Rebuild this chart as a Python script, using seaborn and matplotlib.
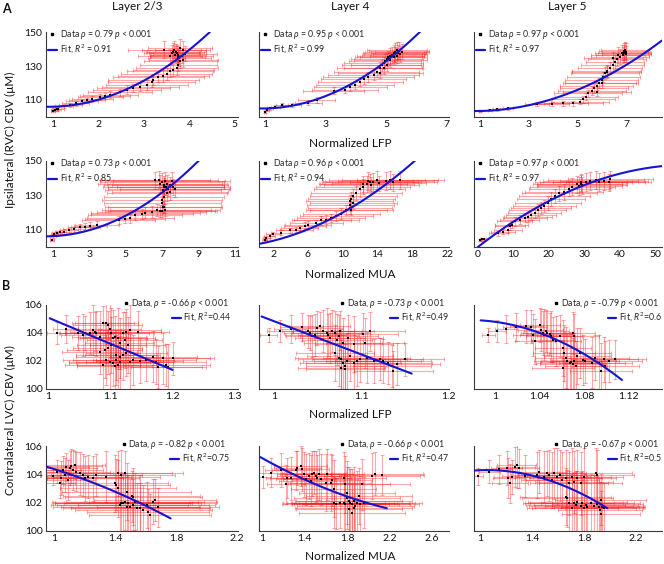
import numpy as np
import matplotlib
matplotlib.use("Agg")
import matplotlib.pyplot as plt
import seaborn as sns
from matplotlib.lines import Line2D

# ---------------- data: (x, y, xerr, yerr) per point ----------------
# Row A1: Ipsilateral CBV vs normalized LFP
a1_pts = [(1.00,103.7,0.05,0.6),(1.04,104.2,0.08,0.8),(1.08,104.6,0.10,0.8),(1.12,104.9,0.12,1.0),
          (1.25,106.2,0.20,1.2),(1.38,107.3,0.25,1.2),(1.50,108.0,0.30,1.5),(1.64,109.2,0.35,1.5),
          (1.75,109.8,0.40,1.5),(1.86,110.6,0.45,1.8),(2.04,111.8,0.50,1.8),(2.15,112.4,0.55,2.0),
          (2.26,113.1,0.60,2.0),(2.48,114.5,0.70,2.0),(2.62,116.1,0.75,2.5),(2.77,117.0,0.80,2.5),
          (2.92,117.6,0.85,2.5),(3.06,119.0,0.90,3.0),(3.17,120.4,0.95,3.0),(3.21,122.0,1.00,3.0),
          (3.32,123.5,1.00,3.0),(3.43,124.3,1.00,3.5),(3.50,125.5,1.00,3.5),(3.57,126.9,0.95,3.5),
          (3.65,127.8,0.90,3.5),(3.72,128.8,0.90,4.0),(3.76,130.8,0.85,4.0),(3.80,132.7,0.80,4.0),
          (3.87,133.7,0.75,4.0),(3.83,136.1,0.70,4.5),(3.78,134.7,0.70,4.5),(3.76,136.7,0.60,5.0),
          (3.72,137.6,0.60,5.0),(3.71,138.0,0.65,5.0),(3.66,139.6,0.70,5.0),(3.61,137.6,0.60,5.0),
          (3.57,135.7,0.70,4.5),(3.85,139.6,0.60,5.0),(3.79,140.6,0.70,5.0),(3.45,139.6,0.80,5.0),
          (3.68,136.5,0.55,5.0),(3.90,137.2,0.70,4.5),(3.74,135.5,0.60,4.5),(3.64,138.5,0.60,5.0)]
a2_pts = [(1.00,103.1,0.03,0.6),(1.06,104.1,0.06,0.8),(1.17,105.1,0.10,0.8),(1.33,106.1,0.15,1.0),
          (1.55,107.1,0.20,1.0),(1.88,107.1,0.30,1.2),(2.43,108.4,0.45,1.5),(2.70,110.0,0.60,1.5),
          (3.26,115.5,1.00,2.0),(3.64,115.9,1.10,2.0),(3.81,117.5,1.20,2.0),(3.97,118.8,1.30,2.5),
          (4.14,120.8,1.40,2.5),(4.25,122.2,1.40,2.5),(4.41,123.7,1.50,3.0),(4.58,124.7,1.50,3.0),
          (4.69,126.7,1.40,3.0),(4.78,128.6,1.40,3.5),(4.85,130.6,1.30,3.5),(4.91,131.6,1.30,3.5),
          (4.96,132.9,1.20,4.0),(5.02,133.9,1.20,4.0),(5.07,135.1,1.10,4.0),(5.13,135.9,1.10,4.5),
          (5.19,136.5,1.00,4.5),(5.24,137.5,1.00,5.0),(5.30,138.4,1.00,5.0),(5.35,139.4,1.00,5.0),
          (5.40,137.8,0.90,4.5),(5.46,137.1,0.90,4.5),(5.52,138.4,0.90,4.5),(5.13,133.5,1.20,4.0),
          (5.02,130.6,1.20,3.5),(4.91,128.6,1.30,3.5),(5.24,135.1,1.10,4.0),(4.80,125.7,1.40,3.0),
          (5.28,136.8,1.00,4.5),(5.35,136.0,0.90,4.5),(5.42,139.0,1.00,5.0)]
a3_pts = [(1.00,103.5,0.05,0.5),(1.41,104.1,0.10,0.6),(1.68,104.5,0.15,0.8),(2.16,105.1,0.20,0.8),
          (3.33,107.6,0.50,1.2),(3.95,107.6,0.70,1.2),(4.42,108.0,1.00,1.5),(4.84,108.0,1.20,1.5),
          (5.11,109.0,1.20,1.5),(5.25,110.4,1.30,2.0),(5.36,112.0,1.30,2.0),(5.45,113.9,1.40,2.0),
          (5.59,115.5,1.40,2.5),(5.68,116.9,1.40,2.5),(5.79,118.2,1.50,2.5),(5.90,120.2,1.50,3.0),
          (6.00,121.8,1.50,3.0),(6.07,123.7,1.50,3.0),(6.14,125.7,1.40,3.5),(6.20,127.3,1.40,3.5),
          (6.34,128.6,1.30,3.5),(6.45,130.6,1.30,4.0),(6.55,132.5,1.20,4.0),(6.64,133.9,1.20,4.0),
          (6.75,135.5,1.20,4.5),(6.86,136.5,1.10,4.5),(6.93,137.5,1.10,5.0),(7.00,138.4,1.00,5.0),
          (6.96,139.4,1.00,5.0),(6.82,137.8,1.10,4.5),(6.68,136.5,1.10,4.5),(6.48,134.5,1.20,4.0),
          (6.20,126.7,1.40,3.5),(6.00,120.2,1.50,3.0),(5.79,114.9,1.40,2.5),(6.90,138.8,1.00,5.0),
          (7.02,137.0,1.00,4.5)]
# Row A2: Ipsilateral CBV vs normalized MUA
a4_pts = [(0.95,104.2,0.10,0.6),(1.00,106.2,0.15,0.8),(1.07,107.5,0.20,1.0),(1.22,108.1,0.25,1.0),
          (1.40,108.7,0.30,1.2),(1.58,109.0,0.40,1.5),(1.86,109.6,0.50,1.5),(2.13,110.4,0.60,1.5),
          (2.50,111.5,0.70,2.0),(2.77,111.9,0.80,2.0),(3.05,112.3,0.90,2.0),(3.40,112.9,1.20,2.0),
          (4.60,115.8,2.00,2.5),(4.96,116.2,2.20,2.5),(5.24,116.7,2.40,2.5),(5.50,118.7,2.60,3.0),
          (5.90,119.2,2.80,3.0),(6.06,120.0,3.00,3.0),(6.42,120.6,3.00,3.5),(6.70,121.5,3.00,3.5),
          (6.88,121.2,3.00,3.5),(7.00,121.2,3.00,3.5),(7.06,123.5,3.20,3.5),(7.00,125.4,3.20,4.0),
          (6.97,127.3,3.30,4.0),(7.10,129.2,3.30,4.0),(7.25,131.2,3.30,4.5),(7.43,132.1,3.20,4.5),
          (7.34,134.0,3.30,4.5),(7.07,135.0,3.30,5.0),(6.88,136.9,3.40,5.0),(6.97,137.9,3.40,5.0),
          (7.15,138.5,3.30,5.0),(7.25,136.9,3.30,5.0),(7.43,136.0,3.20,4.5),(7.60,135.0,3.10,4.5),
          (7.70,133.5,3.00,4.5),(7.52,138.5,3.20,5.0),(6.60,138.8,3.00,5.0),(6.84,139.2,3.20,5.0),
          (7.10,136.0,3.30,5.0),(7.20,134.6,3.20,4.5),(7.03,133.0,3.20,4.5),(7.12,123.5,3.10,3.5),
          (7.15,121.5,3.00,3.5)]
a5_pts = [(1.04,104.1,0.3,0.6),(1.23,105.1,0.4,0.8),(1.62,106.5,0.6,1.0),(2.00,107.5,0.8,1.0),
          (2.96,108.4,1.2,1.2),(3.92,109.6,1.6,1.5),(4.68,110.0,1.9,1.5),(5.07,111.0,2.1,1.5),
          (5.64,112.4,2.4,2.0),(6.02,112.9,2.6,2.0),(6.98,113.9,3.0,2.0),(7.56,115.5,3.4,2.5),
          (8.13,115.9,3.7,2.5),(8.70,116.9,3.9,2.5),(9.28,118.2,4.2,3.0),(9.85,119.4,4.4,3.0),
          (10.43,121.4,4.6,3.0),(10.81,122.7,4.8,3.5),(10.89,124.7,5.0,3.5),(10.81,126.7,5.0,3.5),
          (11.00,128.0,5.0,4.0),(11.20,129.6,5.0,4.0),(11.58,131.6,5.2,4.0),(11.96,133.5,5.2,4.5),
          (12.34,135.1,5.4,4.5),(12.73,136.5,5.4,4.5),(13.10,137.5,5.5,5.0),(13.50,137.8,5.5,5.0),
          (13.90,139.0,5.5,5.0),(12.34,136.5,5.0,4.5),(12.90,138.4,5.2,5.0),(15.00,138.4,5.5,5.0),
          (15.40,139.0,5.5,5.0),(15.80,137.5,5.0,5.0),(16.60,139.0,5.0,5.0),(11.00,121.4,4.8,3.0),
          (11.20,125.7,5.0,3.5),(13.30,136.2,5.4,4.5),(14.20,137.0,5.4,4.5)]
a6_pts = [(0.65,104.1,0.3,0.6),(1.10,104.5,0.5,0.8),(1.60,104.7,0.8,0.8),(5.80,108.0,2.8,1.5),
          (7.20,109.0,3.4,1.5),(8.50,110.0,4.0,2.0),(9.00,112.0,4.3,2.0),(9.50,113.0,4.6,2.0),
          (10.40,115.0,5.0,2.5),(11.80,115.9,5.6,2.5),(13.20,116.9,6.2,2.5),(14.10,117.5,6.8,3.0),
          (15.00,118.8,7.2,3.0),(16.00,119.8,7.6,3.0),(16.90,121.4,8.0,3.5),(17.80,122.7,8.4,3.5),
          (18.80,124.1,8.8,3.5),(19.80,125.7,9.2,4.0),(20.70,128.0,9.6,4.0),(21.70,129.6,10.0,4.0),
          (23.00,131.2,10.5,4.5),(24.40,132.0,11.0,4.5),(25.80,133.9,11.5,4.5),(26.70,135.1,12.0,5.0),
          (28.10,136.5,12.5,5.0),(29.00,137.5,13.0,5.0),(29.50,135.9,12.5,5.0),(30.50,137.8,13.0,5.0),
          (31.80,138.4,13.5,5.0),(33.30,139.0,13.5,5.0),(34.20,137.8,13.0,5.0),(35.60,138.4,12.5,5.0),
          (37.00,137.5,12.0,5.0),(37.40,139.4,12.0,5.0),(28.60,135.5,12.0,5.0),(29.20,136.8,12.5,5.0)]
# Row B1: Contralateral CBV vs normalized LFP
b1_pts = [(1.014,103.98,0.015,0.8),(1.029,104.26,0.020,1.0),(1.048,103.98,0.030,1.2),(1.056,103.86,0.035,1.5),
          (1.059,103.98,0.040,1.2),(1.067,104.02,0.040,1.5),(1.072,104.20,0.045,1.8),(1.075,104.10,0.040,1.4),
          (1.078,103.98,0.050,1.6),(1.083,103.74,0.045,1.8),(1.088,104.70,0.050,1.2),(1.094,104.70,0.050,1.5),
          (1.096,104.60,0.055,1.0),(1.099,104.26,0.050,2.0),(1.102,103.98,0.060,1.8),(1.104,103.62,0.055,2.0),
          (1.107,103.74,0.050,1.5),(1.112,103.62,0.060,2.2),(1.115,103.26,0.055,1.8),(1.120,103.98,0.050,1.5),
          (1.123,103.50,0.060,2.0),(1.126,104.10,0.055,1.6),(1.128,103.14,0.060,2.0),(1.131,104.20,0.050,1.8),
          (1.094,102.07,0.070,1.8),(1.099,101.95,0.065,2.0),(1.104,101.83,0.070,1.6),(1.107,101.64,0.060,2.2),
          (1.110,102.07,0.070,1.8),(1.112,101.71,0.065,2.0),(1.115,102.31,0.070,1.5),(1.120,102.43,0.060,1.8),
          (1.126,102.55,0.065,1.6),(1.131,101.95,0.070,2.0),(1.137,102.07,0.065,1.8),(1.147,102.02,0.070,1.6),
          (1.158,102.07,0.080,1.5),(1.169,102.31,0.070,1.8),(1.174,101.95,0.080,1.6),(1.177,101.60,0.070,1.5),
          (1.185,102.19,0.075,1.8),(1.190,101.71,0.070,1.5),(1.193,101.60,0.060,1.6),(1.201,102.19,0.065,1.2),
          (1.088,101.71,0.060,1.8),(1.091,102.79,0.060,2.0),(1.096,102.90,0.055,1.8),(1.083,102.67,0.060,1.6),
          (1.102,103.14,0.055,2.0),(1.145,104.10,0.050,1.5),(1.110,102.43,0.065,1.8),(1.115,101.95,0.070,2.0)]
b2_pts = [(0.993,103.88,0.010,0.5),(1.006,104.16,0.015,0.8),(1.019,104.31,0.020,1.0),(1.031,104.40,0.025,1.0),
          (1.039,104.12,0.030,1.2),(1.043,103.76,0.030,1.5),(1.041,104.00,0.030,1.2),(1.047,103.88,0.035,1.5),
          (1.049,104.35,0.030,1.2),(1.052,104.47,0.035,1.0),(1.056,104.16,0.035,1.5),(1.060,104.00,0.040,1.8),
          (1.062,103.88,0.035,1.5),(1.064,103.65,0.040,1.8),(1.066,104.12,0.035,1.5),(1.070,104.00,0.040,1.6),
          (1.072,103.53,0.040,1.8),(1.074,103.76,0.045,1.5),(1.075,104.16,0.040,1.4),(1.079,103.29,0.045,1.8),
          (1.085,103.65,0.040,1.6),(1.091,103.18,0.045,2.0),(1.102,103.93,0.040,1.5),(1.110,104.12,0.040,1.4),
          (1.104,103.29,0.045,1.8),(1.070,102.59,0.045,2.0),(1.074,102.24,0.050,2.0),(1.077,102.12,0.050,2.2),
          (1.079,101.88,0.050,2.0),(1.081,101.65,0.045,1.8),(1.083,102.00,0.050,2.0),(1.087,102.35,0.050,1.8),
          (1.091,101.88,0.055,2.0),(1.095,102.00,0.050,1.8),(1.098,102.12,0.055,1.6),(1.106,102.24,0.050,1.8),
          (1.114,102.00,0.055,1.6),(1.121,102.12,0.050,1.5),(1.125,102.00,0.055,1.6),(1.131,101.88,0.050,1.5),
          (1.135,101.65,0.045,1.5),(1.137,101.29,0.045,1.4),(1.141,101.76,0.050,1.5),(1.150,102.12,0.045,1.2),
          (1.081,101.41,0.045,1.8),(1.077,101.53,0.050,2.0)]
b3_pts = [(0.994,103.88,0.006,0.5),(1.002,104.16,0.008,0.8),(1.010,104.31,0.010,1.0),(1.019,104.40,0.012,1.0),
          (1.028,104.47,0.015,1.2),(1.032,104.45,0.015,1.2),(1.034,103.88,0.018,1.5),(1.036,103.41,0.018,1.6),
          (1.040,104.59,0.018,1.2),(1.041,104.24,0.020,1.5),(1.043,104.00,0.020,1.6),(1.044,103.88,0.022,1.8),
          (1.046,104.12,0.020,1.5),(1.047,104.00,0.022,1.6),(1.049,103.93,0.020,1.5),(1.050,103.76,0.022,1.8),
          (1.052,103.53,0.020,1.6),(1.055,103.41,0.022,1.8),(1.058,103.76,0.020,1.5),(1.061,102.94,0.025,2.0),
          (1.062,102.59,0.028,2.0),(1.064,102.24,0.028,2.2),(1.065,102.00,0.030,2.0),(1.067,101.88,0.030,2.2),
          (1.068,101.95,0.028,2.0),(1.070,101.81,0.030,1.8),(1.071,102.00,0.030,2.0),(1.073,101.65,0.028,1.8),
          (1.074,102.35,0.030,2.0),(1.076,102.59,0.028,1.8),(1.079,102.05,0.030,1.8),(1.081,102.00,0.030,1.6),
          (1.070,104.00,0.020,1.5),(1.071,103.76,0.022,1.6),(1.061,101.53,0.028,2.0),(1.087,101.88,0.030,1.8),
          (1.090,102.24,0.030,1.6),(1.093,101.88,0.030,2.0),(1.095,101.29,0.028,2.0),(1.098,102.12,0.030,1.6),
          (1.102,102.00,0.030,1.5),(1.108,102.12,0.028,1.4),(1.099,101.65,0.030,1.8)]
# Row B2: Contralateral CBV vs normalized MUA
b4_pts = [(0.993,103.88,0.05,0.6),(1.020,104.19,0.08,0.8),(1.037,103.36,0.10,1.0),(1.048,103.72,0.12,1.2),
          (1.059,104.31,0.12,1.0),(1.070,103.95,0.15,1.2),(1.081,104.54,0.15,1.0),(1.092,103.60,0.18,1.4),
          (1.103,104.42,0.18,1.2),(1.114,104.59,0.20,1.2),(1.125,104.31,0.20,1.4),(1.136,104.66,0.20,1.0),
          (1.147,104.19,0.22,1.4),(1.169,104.07,0.22,1.5),(1.191,103.95,0.25,1.5),(1.202,103.72,0.25,1.6),
          (1.224,103.84,0.28,1.5),(1.257,103.72,0.30,1.6),(1.279,103.95,0.30,1.5),(1.344,103.84,0.35,1.8),
          (1.399,103.36,0.35,2.0),(1.421,104.07,0.35,1.6),(1.443,103.95,0.35,1.8),(1.465,104.07,0.38,1.6),
          (1.421,103.01,0.38,2.0),(1.410,103.25,0.35,1.8),(1.432,101.84,0.45,2.0),(1.443,101.95,0.45,2.2),
          (1.454,102.00,0.45,2.0),(1.465,102.07,0.48,2.0),(1.476,101.72,0.48,2.2),(1.487,101.95,0.48,2.0),
          (1.498,101.67,0.45,2.0),(1.520,101.84,0.50,1.8),(1.531,102.07,0.45,2.0),(1.542,101.60,0.48,1.8),
          (1.564,101.95,0.50,2.0),(1.586,101.48,0.45,1.8),(1.608,101.84,0.45,1.6),(1.618,101.36,0.40,1.6),
          (1.629,101.13,0.40,1.5),(1.651,102.07,0.42,1.6),(1.662,102.19,0.40,1.5),(1.684,101.67,0.40,1.4),
          (1.564,101.60,0.45,1.8),(1.520,102.42,0.45,2.0),(1.509,102.47,0.45,1.8),(1.476,102.78,0.42,2.0)]
b5_pts = [(1.006,103.81,0.08,0.8),(1.084,104.12,0.12,1.0),(1.178,104.28,0.15,1.2),(1.224,103.29,0.18,1.4),
          (1.240,103.76,0.20,1.4),(1.271,103.72,0.20,1.5),(1.318,104.28,0.22,1.4),(1.333,104.47,0.22,1.2),
          (1.364,104.59,0.25,1.4),(1.380,104.35,0.25,1.5),(1.396,104.00,0.25,1.6),(1.411,103.65,0.28,1.8),
          (1.442,103.88,0.30,1.6),(1.458,103.53,0.30,1.8),(1.474,104.05,0.30,1.6),(1.490,104.12,0.30,1.5),
          (1.505,103.88,0.32,1.8),(1.520,103.76,0.32,1.6),(1.536,104.00,0.32,1.8),(1.551,103.65,0.35,1.8),
          (1.598,103.41,0.35,2.0),(1.614,104.00,0.35,1.8),(1.645,103.41,0.38,2.0),(1.660,103.58,0.38,1.8),
          (1.676,103.00,0.40,2.0),(1.769,103.76,0.40,1.8),(1.785,103.29,0.42,2.0),(1.800,102.71,0.45,2.2),
          (1.816,102.12,0.50,2.4),(1.832,102.00,0.55,2.4),(1.847,101.88,0.55,2.5),(1.863,102.12,0.55,2.4),
          (1.879,101.76,0.55,2.2),(1.894,102.00,0.55,2.2),(1.816,101.53,0.50,2.2),(1.847,101.29,0.50,2.0),
          (1.863,101.60,0.55,2.2),(1.785,101.88,0.50,2.0),(1.769,102.00,0.50,2.0),(1.738,102.00,0.50,1.8),
          (1.692,101.93,0.50,1.8),(1.676,102.00,0.48,1.8),(1.925,101.88,0.55,2.0),(1.956,102.00,0.55,1.8),
          (1.941,103.29,0.45,1.8),(2.034,103.88,0.45,1.6),(2.065,104.05,0.45,1.5),(2.128,103.95,0.40,1.4),
          (1.910,102.47,0.50,2.0),(1.800,102.35,0.50,2.2)]
b6_pts = [(0.987,103.88,0.04,0.6),(1.072,104.19,0.08,0.8),(1.150,104.35,0.10,1.0),(1.206,104.42,0.12,1.2),
          (1.219,103.72,0.12,1.4),(1.232,103.36,0.14,1.4),(1.245,103.79,0.14,1.2),(1.271,104.54,0.15,1.4),
          (1.284,104.66,0.15,1.6),(1.297,104.42,0.16,1.4),(1.348,103.88,0.18,1.5),(1.439,103.95,0.20,1.6),
          (1.452,104.19,0.20,1.5),(1.490,103.84,0.22,1.8),(1.516,104.07,0.22,1.6),(1.529,103.95,0.24,1.8),
          (1.555,103.60,0.24,2.0),(1.568,104.07,0.25,1.8),(1.594,103.84,0.25,2.0),(1.619,103.95,0.26,1.8),
          (1.632,103.60,0.28,2.0),(1.658,103.72,0.28,2.0),(1.684,103.36,0.30,2.2),(1.710,103.84,0.30,2.0),
          (1.723,103.48,0.30,2.2),(1.748,103.72,0.30,2.0),(1.774,103.36,0.32,2.2),(1.800,103.84,0.30,2.0),
          (1.890,104.07,0.28,1.8),(1.903,103.95,0.28,1.8),(1.684,102.00,0.35,2.2),(1.710,101.60,0.35,2.4),
          (1.723,101.95,0.38,2.2),(1.735,101.84,0.38,2.4),(1.748,102.07,0.38,2.2),(1.774,101.76,0.40,2.4),
          (1.787,102.00,0.40,2.2),(1.800,101.60,0.40,2.4),(1.813,101.84,0.40,2.2),(1.826,101.67,0.40,2.2),
          (1.852,102.00,0.38,2.0),(1.877,101.76,0.38,2.2),(1.903,101.91,0.35,2.0),(1.916,101.72,0.35,2.0),
          (1.929,102.19,0.35,1.8),(1.923,101.48,0.32,2.0),(1.942,101.67,0.32,1.8),(1.955,101.60,0.30,1.8),
          (1.929,101.20,0.30,1.6),(1.658,102.42,0.35,2.0),(1.671,102.31,0.35,2.0)]

# quadratic fits: y = c + b*(x-x0) + k*(x-x0)^2 over [x_start, x_end]
a1_fit = (0.90, 106.0, 0.0, 3.49, 0.846, 4.45)
a2_fit = (0.90, 105.0, 0.0, 1.66, 0.80, 6.12)
a3_fit = (0.80, 103.5, 0.0, 0.704, 0.75, 8.47)
a4_fit = (0.60, 106.2, 0.0, 0.623, 0.615, 9.02)
a5_fit = (0.40, 101.8, 0.961, 0.0974, 0.39, 18.3)
a6_fit = (0.0, 100.0, 1.60, -0.01338, 0.0, 52.0)
b1_fit = (1.003, 105.05, -18.7, 0.0, 1.003, 1.20)
b2_fit = (0.985, 105.18, -23.58, 0.0, 0.985, 1.158)
b3_fit = (1.0, 104.8, -10.8, -225.0, 0.987, 1.114)
b4_fit = (1.0, 104.376, -3.367, -1.556, 0.95, 1.765)
b5_fit = (1.0, 105.15, -4.18, 0.989, 0.984, 2.175)
b6_fit = (1.05, 104.3, 0.0, -3.12, 0.954, 1.98)

# statistics shown in legends (rho, R^2)
a_rho = ["0.79", "0.95", "0.97", "0.73", "0.96", "0.97"]
a_r2 = ["0.91", "0.99", "0.97", "0.85", "0.94", "0.97"]
b_rho = ["-0.66", "-0.73", "-0.79", "-0.82", "-0.66", "-0.67"]
b_r2 = ["0.44", "0.49", "0.6", "0.75", "0.47", "0.5"]

# tick labels
a1_xt = ["1", "2", "3", "4", "5"]
a2_xt = ["1", "3", "5", "7"]
a3_xt = ["1", "3", "5", "7"]
a4_xt = ["1", "3", "5", "7", "9", "11"]
a5_xt = ["2", "6", "10", "14", "18", "22"]
a6_xt = ["0", "10", "20", "30", "40", "50"]
b1_xt = ["1", "1.1", "1.2", "1.3"]
b2_xt = ["1", "1.1", "1.2"]
b3_xt = ["1", "1.04", "1.08", "1.12"]
b4_xt = ["1", "1.4", "1.8", "2.2"]
b5_xt = ["1", "1.4", "1.8", "2.2", "2.6"]
b6_xt = ["1", "1.4", "1.8", "2.2"]
a_yt = ["110", "130", "150"]
b_yt = ["100", "102", "104", "106"]

layers = ["Layer 2/3", "Layer 4", "Layer 5"]

# ---------------- style ----------------
sns.set_theme(style="white")
plt.rcParams["font.family"] = ["Lato", "DejaVu Sans"]
plt.rcParams["mathtext.fontset"] = "custom"
plt.rcParams["mathtext.rm"] = "Lato"
plt.rcParams["mathtext.it"] = "Lato:italic"
plt.rcParams["mathtext.bf"] = "Lato:bold"

W, H = 664, 564
fig = plt.figure(figsize=(W / 100, H / 100), dpi=100)

col_px = [(46, 238), (259, 449), (474, 662)]
row_px = [(32, 117), (161, 247), (305, 389), (446, 531)]

ERR = "#ff1414"
BLUE = "#1414d2"
AXC = "#3a3a3a"

panels = [
    (0, 0, a1_pts, a1_fit, (0.846, 5.07), a1_xt, "A", 0),
    (0, 1, a2_pts, a2_fit, (0.80, 7.07), a2_xt, "A", 1),
    (0, 2, a3_pts, a3_fit, (0.75, 8.48), a3_xt, "A", 2),
    (1, 0, a4_pts, a4_fit, (0.615, 11.16), a4_xt, "A", 3),
    (1, 1, a5_pts, a5_fit, (0.39, 22.2), a5_xt, "A", 4),
    (1, 2, a6_pts, a6_fit, (-1.1, 52.0), a6_xt, "A", 5),
    (2, 0, b1_pts, b1_fit, (0.997, 1.305), b1_xt, "B", 0),
    (2, 1, b2_pts, b2_fit, (0.982, 1.201), b2_xt, "B", 1),
    (2, 2, b3_pts, b3_fit, (0.981, 1.15), b3_xt, "B", 2),
    (3, 0, b4_pts, b4_fit, (0.948, 2.207), b4_xt, "B", 3),
    (3, 1, b5_pts, b5_fit, (0.972, 2.76), b5_xt, "B", 4),
    (3, 2, b6_pts, b6_fit, (0.954, 2.40), b6_xt, "B", 5),
]

b_data_anchor = [0.95, 0.975, 0.98, 0.935, 0.975, 0.98]
b_fit_anchor = [0.965, 1.0, 1.0, 0.955, 1.0, 1.0]

for r, c, pts, fit, xlim, xt, kind, idx in panels:
    l, rr = col_px[c]
    t, b = row_px[r]
    ax = fig.add_axes([l / W, 1 - b / H, (rr - l) / W, (b - t) / H])
    arr = np.array(pts)
    x, y, xe, ye = arr[:, 0], arr[:, 1], arr[:, 2], arr[:, 3]
    ax.errorbar(x, y, xerr=xe, yerr=ye, fmt="none", ecolor=ERR, alpha=0.36,
                elinewidth=0.8, capsize=1.6, capthick=0.8, zorder=1)
    sns.scatterplot(x=x, y=y, ax=ax, color="black", s=3, marker="s",
                    linewidth=0, zorder=3, legend=False)
    x0, c0, b1, k, xs, xe_ = fit
    fx = np.linspace(xs, xe_, 200)
    fy = c0 + b1 * (fx - x0) + k * (fx - x0) ** 2
    sns.lineplot(x=fx, y=fy, ax=ax, color=BLUE, lw=1.5, zorder=4,
                 estimator=None, sort=False, legend=False)

    ax.set_xlim(*xlim)
    ax.set_xticks([float(v) for v in xt], xt)
    if kind == "A":
        ax.set_ylim(100, 150)
        ax.set_yticks([float(v) for v in a_yt], a_yt)
    else:
        ax.set_ylim(100, 106)
        ax.set_yticks([float(v) for v in b_yt], b_yt)
    ax.set_xlabel("")
    ax.set_ylabel("")
    for s in ["top", "right"]:
        ax.spines[s].set_visible(False)
    for s in ["left", "bottom"]:
        ax.spines[s].set_color(AXC)
        ax.spines[s].set_linewidth(0.8)
    ax.tick_params(direction="in", length=3, width=0.7, colors=AXC,
                   labelcolor="#111111", labelsize=7.5, pad=2.5)
    if c != 0:
        ax.tick_params(labelleft=False)
    ax.set_facecolor("none")

    h_data = Line2D([], [], ls="none", marker="s", color="black", markersize=1.6)
    h_fit = Line2D([], [], color=BLUE, lw=1.6)
    if kind == "A":
        ax.legend([h_data, h_fit],
                  [r"Data $\rho$ = %s $p$ < 0.001" % a_rho[idx],
                   r"Fit, $R^2$ = %s" % a_r2[idx]],
                  loc="upper left", bbox_to_anchor=(0.01, 1.045),
                  frameon=False, fontsize=6.3, handlelength=1.0,
                  handletextpad=0.35, borderpad=0, borderaxespad=0,
                  labelspacing=0.25)
    else:
        leg1 = ax.legend([h_data], [r"Data, $\rho$ = %s $p$ < 0.001" % b_rho[idx]],
                         loc="upper right", bbox_to_anchor=(b_data_anchor[idx], 1.09),
                         frameon=False, fontsize=6.3, handlelength=0.4,
                         handletextpad=0.3, borderpad=0, borderaxespad=0)
        ax.add_artist(leg1)
        ax.legend([h_fit], [r"Fit, $R^2$=%s" % b_r2[idx]],
                  loc="upper right", bbox_to_anchor=(b_fit_anchor[idx], 0.93),
                  frameon=False, fontsize=6.3, handlelength=1.0,
                  handletextpad=0.3, borderpad=0, borderaxespad=0)


def ftext(px, py, s, **kw):
    fig.text(px / W, 1 - py / H, s, ha="center", va="center", color="#111111", **kw)


for j, name in enumerate(layers):
    ftext([137, 350, 567][j], 7, name, fontsize=8.5)
ftext(6, 9, "A", fontsize=9, fontweight="bold")
ftext(6, 286, "B", fontsize=9, fontweight="bold")
ftext(350, 144, "Normalized LFP", fontsize=8.5)
ftext(350, 274, "Normalized MUA", fontsize=8.5)
ftext(350, 415, "Normalized LFP", fontsize=8.5)
ftext(350, 557, "Normalized MUA", fontsize=8.5)
ftext(10, 140, "Ipsilateral (RVC) CBV (μM)", fontsize=8.5, rotation=90)
ftext(10, 420, "Contralateral LVC) CBV (μM)", fontsize=8.5, rotation=90)

fig.savefig("out.png", dpi=100, facecolor="white")
